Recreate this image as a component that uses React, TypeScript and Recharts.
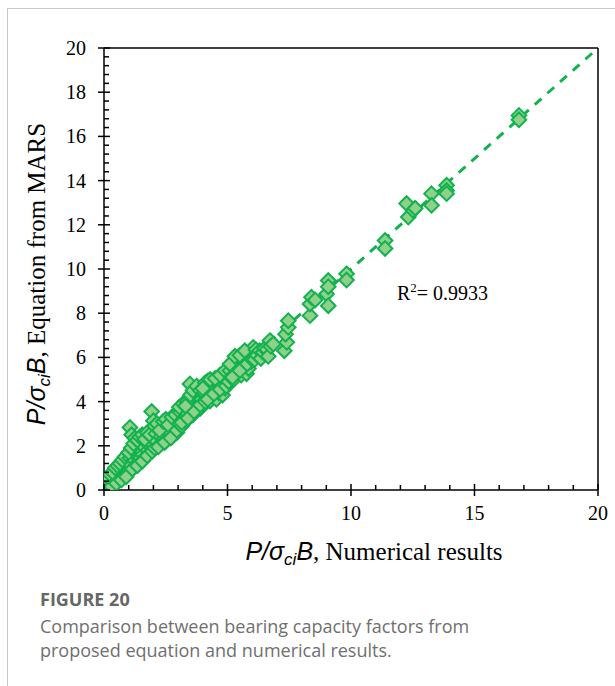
import React from "react";
import {
  ScatterChart,
  Scatter,
  XAxis,
  YAxis,
  ReferenceLine,
  ReferenceDot,
} from "recharts";

// Numerical results (x) and MARS equation predictions (y), P/σci·B
const numerical: number[] = [
  0.02, 0.05, 0.08, 0.1, 0.12, 0.15, 0.18, 0.2, 0.22, 0.25, 0.28, 0.3, 0.32, 0.35, 0.38, 0.4, 0.42, 0.45, 0.48, 0.5,
  0.55, 0.58, 0.6, 0.65, 0.68, 0.7, 0.75, 0.78, 0.8, 0.85, 0.88, 0.9, 0.95, 0.98, 1.0,
  0.0, 0.05, 0.15, 0.25, 0.35, 0.45, 0.55, 0.65, 0.75, 0.85, 0.1, 0.3, 0.5, 0.7, 0.9,
  1.05, 1.12, 1.05, 1.1, 1.15, 1.2, 1.22, 1.3, 1.32, 1.38, 1.42, 1.48, 1.52, 1.58, 1.62, 1.68, 1.72, 1.78, 1.82, 1.88,
  1.93, 2.0, 1.95, 1.98,
  1.0, 1.1, 1.2, 1.25, 1.35, 1.45, 1.55, 1.65, 1.75, 1.85, 1.15, 1.35, 1.55, 1.75, 1.95,
  2.05, 2.1, 2.15, 2.2, 2.25, 2.3, 2.35, 2.4, 2.45, 2.5, 2.55, 2.6, 2.65, 2.7, 2.75, 2.8, 2.85, 2.9, 2.95, 3.0,
  2.05, 2.15, 2.25, 2.4, 2.5, 2.6, 2.75, 2.9, 2.2, 2.45, 2.7, 2.95,
  3.05, 3.1, 3.15, 3.2, 3.25, 3.3, 3.35, 3.4, 3.45, 3.48, 3.5, 3.55, 3.6, 3.65, 3.7, 3.75, 3.8, 3.85, 3.9, 3.95, 4.0,
  3.05, 3.2, 3.35, 3.5, 3.6, 3.75, 3.9, 3.15, 3.4, 3.65, 3.9, 3.3,
  4.05, 4.1, 4.15, 4.2, 4.25, 4.29, 4.35, 4.4, 4.45, 4.5, 4.55, 4.6, 4.65, 4.7, 4.75, 4.8, 4.85, 4.9, 4.95, 5.0,
  4.1, 4.3, 4.5, 4.7, 4.9, 4.2, 4.45, 4.7, 4.95, 4.0,
  5.05, 5.1, 5.15, 5.2, 5.25, 5.3, 5.37, 5.4, 5.45, 5.5, 5.55, 5.6, 5.65, 5.7, 5.77, 5.8, 5.85, 5.9, 5.95, 6.04,
  5.1, 5.3, 5.5, 5.7, 5.2, 5.5, 5.8, 6.0,
  6.1, 6.15, 6.2, 6.3, 6.35, 6.44, 6.5, 6.6, 6.65, 6.72, 6.75, 6.85,
  7.3, 7.4, 7.35, 7.46, 7.46,
  8.34, 8.34, 8.4, 8.55, 9.01, 9.08, 9.08, 9.08, 9.82, 9.82,
  11.38, 11.38, 12.25, 12.32, 12.52, 12.6, 13.26, 13.26, 13.87, 13.87, 13.87, 16.8, 16.8,
];

const mars: number[] = [
  0.05, 0.15, 0.02, 0.25, 0.1, 0.35, 0.05, 0.2, 0.45, 0.3, 0.1, 0.55, 0.35, 0.2, 0.65, 0.45, 0.3, 0.75, 0.55, 0.4,
  0.85, 0.6, 0.5, 0.95, 0.7, 0.55, 1.05, 0.8, 0.65, 1.15, 0.9, 0.75, 1.25, 1.0, 0.85,
  0.3, 0.45, 0.55, 0.7, 0.8, 1.0, 1.1, 1.2, 1.35, 1.5, 0.0, 0.15, 0.3, 0.45, 0.6,
  2.83, 2.5, 1.45, 1.1, 1.7, 1.0, 1.35, 2.0, 1.55, 1.25, 1.85, 1.45, 2.1, 1.6, 1.95, 1.5, 2.25, 1.8, 2.05, 1.7,
  3.55, 3.13, 2.4, 2.05,
  1.7, 1.9, 2.1, 2.35, 2.25, 2.4, 2.5, 2.3, 2.6, 2.5, 0.95, 1.1, 1.3, 1.55, 1.75,
  1.9, 2.55, 2.2, 2.75, 2.05, 2.4, 2.95, 2.3, 2.6, 2.2, 2.85, 2.5, 3.05, 2.6, 2.4, 3.15, 2.7, 2.9, 2.6, 3.35,
  2.9, 3.0, 2.7, 3.1, 3.2, 2.95, 3.3, 3.4, 1.95, 2.15, 2.35, 2.7,
  3.0, 3.5, 2.9, 3.2, 3.6, 3.1, 3.4, 3.8, 3.3, 4.8, 3.6, 4.15, 3.4, 3.9, 3.6, 4.3, 3.8, 4.6, 3.7, 4.1, 3.9,
  3.75, 3.9, 4.0, 4.3, 4.5, 4.7, 4.5, 3.05, 3.25, 3.55, 3.85, 3.8,
  4.4, 4.0, 4.7, 4.93, 4.2, 4.03, 4.5, 4.8, 4.3, 4.6, 4.1, 4.9, 4.4, 4.7, 4.5, 4.3, 5.0, 4.6, 4.8, 5.2,
  4.85, 5.0, 5.05, 5.2, 5.4, 4.1, 4.35, 4.55, 4.7, 4.6,
  4.9, 5.4, 5.1, 5.6, 5.0, 5.8, 5.4, 6.0, 5.3, 5.7, 5.2, 5.9, 6.1, 5.6, 5.26, 6.0, 5.5, 6.2, 5.8, 6.45,
  5.7, 6.05, 6.1, 6.3, 5.1, 5.4, 5.7, 5.9,
  5.9, 6.35, 6.1, 6.3, 5.95, 6.23, 6.4, 6.35, 6.05, 6.76, 6.5, 6.6,
  6.3, 6.68, 7.05, 7.36, 7.66,
  7.89, 8.42, 8.72, 8.6, 8.87, 9.48, 9.2, 8.34, 9.78, 9.5,
  11.29, 10.93, 12.96, 12.35, 12.65, 12.75, 13.41, 12.88, 13.79, 13.55, 13.41, 16.95, 16.75,
];

// Axis tick values
const xTicks: number[] = [0, 1, 2, 3, 4, 5, 6, 7, 8, 9, 10, 11, 12, 13, 14, 15, 16, 17, 18, 19, 20];
const xLabelled: number[] = [0, 5, 10, 15, 20];
const yLabelled: number[] = [0, 2, 4, 6, 8, 10, 12, 14, 16, 18, 20];
const yMinorStep = 0.4;

const r2Text = "0.9933";

const data = numerical.map((x, i) => ({ x, y: mars[i] }));

const yTicks: number[] = [];
for (let k = 0; k <= 50; k++) yTicks.push(Math.round(k * yMinorStep * 10) / 10);

const SERIF = "'Liberation Serif', 'Times New Roman', serif";
const SANS = "'Liberation Sans', Arial, sans-serif";
const GREEN = "#12b24f";
const FILL = "#8fd08a";

const isLabelled = (v: number, list: number[]) => list.some((t) => Math.abs(t - v) < 1e-6);

const XTick = (props: any) => {
  const { x, y, payload } = props;
  const v = payload.value;
  if (isLabelled(v, xLabelled)) {
    return (
      <g>
        <line x1={x} x2={x} y1={y - 6} y2={y + 6} stroke="#000" strokeWidth={1.5} />
        <text x={x} y={y + 30} textAnchor="middle" fontFamily={SERIF} fontSize={20} fill="#000">
          {v}
        </text>
      </g>
    );
  }
  return <line x1={x} x2={x} y1={y - 5} y2={y} stroke="#000" strokeWidth={1.5} />;
};

const YTick = (props: any) => {
  const { x, y, payload } = props;
  const v = payload.value;
  if (isLabelled(v, yLabelled)) {
    return (
      <g>
        <line x1={x - 6} x2={x + 6} y1={y} y2={y} stroke="#000" strokeWidth={1.5} />
        <text x={x - 18} y={y + 7} textAnchor="end" fontFamily={SERIF} fontSize={20} fill="#000">
          {v}
        </text>
      </g>
    );
  }
  return <line x1={x} x2={x + 5} y1={y} y2={y} stroke="#000" strokeWidth={1.5} />;
};

const Diamond = (props: any) => {
  const { cx, cy } = props;
  if (cx == null || cy == null) return null;
  const h = 7.3;
  return (
    <polygon
      points={`${cx},${cy - h} ${cx + h},${cy} ${cx},${cy + h} ${cx - h},${cy}`}
      fill={FILL}
      stroke={GREEN}
      strokeWidth={2}
    />
  );
};

const XTitle = (props: any) => {
  const vb = props.viewBox || {};
  const cx = 374;
  const y = (vb.y ?? 490) + 70;
  return (
    <text x={cx} y={y} textAnchor="middle" fontSize={25} fill="#000">
      <tspan fontFamily={SANS} fontStyle="italic">P/σ</tspan>
      <tspan fontFamily={SANS} fontStyle="italic" fontSize={17} dy={5}>ci</tspan>
      <tspan fontFamily={SANS} fontStyle="italic" dy={-5}>B</tspan>
      <tspan fontFamily={SERIF}>, Numerical results</tspan>
    </text>
  );
};

const YTitle = () => {
  const cx = 45;
  const cy = 274;
  return (
    <text x={cx} y={cy} transform={`rotate(-90 ${cx} ${cy})`} textAnchor="middle" fontSize={25} fill="#000">
      <tspan fontFamily={SANS} fontStyle="italic">P/σ</tspan>
      <tspan fontFamily={SANS} fontStyle="italic" fontSize={17} dy={5}>ci</tspan>
      <tspan fontFamily={SANS} fontStyle="italic" dy={-5}>B</tspan>
      <tspan fontFamily={SERIF}>, Equation from MARS</tspan>
    </text>
  );
};

const R2Label = (props: any) => {
  const vb = props.viewBox || {};
  const x = vb.x ?? 0;
  const y = vb.y ?? 0;
  return (
    <text x={x} y={y + 7} fontFamily={SERIF} fontSize={20} fill="#000">
      R<tspan fontSize={13} dy={-8}>2</tspan>
      <tspan dy={8}>= {r2Text}</tspan>
    </text>
  );
};

export default function App() {
  return (
    <div style={{ position: "absolute", left: 0, top: 0, width: 615, height: 686, background: "#fff", overflow: "hidden" }}>
      <div
        style={{
          position: "absolute",
          left: 7,
          top: 8,
          width: 640,
          height: 700,
          borderTop: "1px solid #c9c9c9",
          borderLeft: "1px solid #c9c9c9",
        }}
      />
      <div style={{ position: "absolute", left: 0, top: 0 }}>
        <ScatterChart width={615} height={580} margin={{ top: 48, right: 17, left: 44, bottom: 30 }}>
          <XAxis
            type="number"
            dataKey="x"
            domain={[0, 20]}
            ticks={xTicks}
            interval={0}
            tickSize={0}
            tickMargin={0}
            tickLine={false}
            tick={<XTick />}
            axisLine={{ stroke: "#000", strokeWidth: 1.5 }}
            height={60}
            allowDataOverflow
            label={{ content: <XTitle /> } as any}
          />
          <YAxis
            type="number"
            dataKey="y"
            domain={[0, 20]}
            ticks={yTicks}
            interval={0}
            tickSize={0}
            tickMargin={0}
            tickLine={false}
            tick={<YTick />}
            axisLine={{ stroke: "#000", strokeWidth: 1.5 }}
            width={60}
            allowDataOverflow
            label={{ content: <YTitle /> } as any}
          />
          <ReferenceLine y={20} stroke="#000" strokeWidth={1.5} />
          <ReferenceLine x={20} stroke="#000" strokeWidth={1.5} />
          <ReferenceLine
            segment={[
              { x: 0, y: 0 },
              { x: 20, y: 20 },
            ]}
            stroke={GREEN}
            strokeWidth={3}
            strokeDasharray="9 8"
          />
          <Scatter data={data} shape={<Diamond />} isAnimationActive={false} />
          <ReferenceDot x={11.86} y={8.9} r={0} fill="none" stroke="none" label={{ content: <R2Label /> } as any} />
        </ScatterChart>
      </div>
      <div
        style={{
          position: "absolute",
          left: 40,
          top: 587,
          fontFamily: "'Open Sans', 'Noto Sans', sans-serif",
          color: "#6f6f6f",
          fontSize: 18,
          lineHeight: "24px",
        }}
      >
        <div style={{ fontWeight: 700, color: "#666", marginBottom: 3 }}>FIGURE 20</div>
        <div>Comparison between bearing capacity factors from</div>
        <div>proposed equation and numerical results.</div>
      </div>
    </div>
  );
}
